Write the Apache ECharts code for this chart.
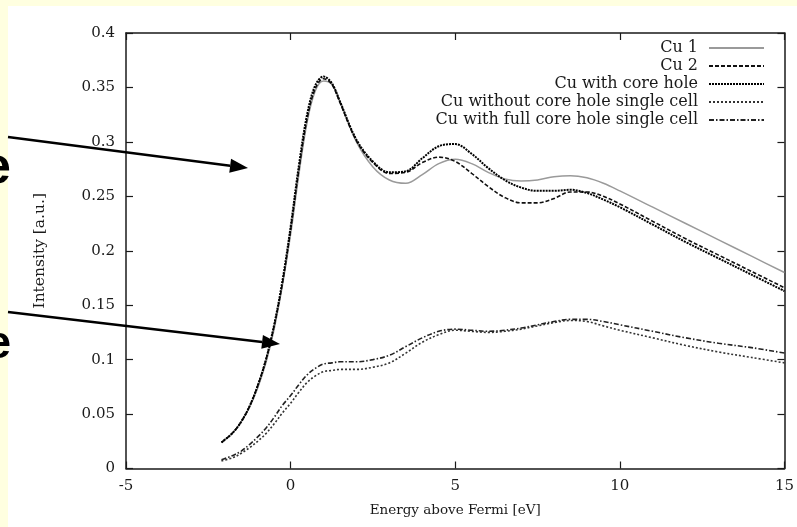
<!DOCTYPE html>
<html>
<head>
<meta charset="utf-8">
<script src="https://cdn.jsdelivr.net/npm/echarts@6/dist/echarts.min.js"></script>
<style>
html,body{margin:0;padding:0;background:#ffffff;}
#chart{width:797px;height:527px;}
</style>
</head>
<body>
<div id="chart"></div>
<script>
// ---- data ----
var energy = [-2.1,-1.75,-1.5,-1.25,-1,-0.75,-0.5,-0.25,0,0.25,0.5,0.75,1,1.25,1.5,2,2.5,3,3.5,4,4.5,5,5.5,6,6.5,7,7.5,8,8.5,9,9.5,10,11,12,13,14,15];
var cu1 = [0.024,0.033,0.043,0.056,0.074,0.097,0.128,0.168,0.215,0.27,0.318,0.347,0.356,0.353,0.337,0.3,0.277,0.265,0.262,0.27,0.28,0.284,0.28,0.272,0.266,0.264,0.265,0.268,0.269,0.267,0.262,0.255,0.24,0.225,0.21,0.195,0.18];
var cu2 = [0.024,0.033,0.043,0.057,0.076,0.1,0.131,0.17,0.219,0.274,0.321,0.349,0.358,0.353,0.336,0.301,0.281,0.271,0.272,0.281,0.286,0.282,0.271,0.259,0.249,0.244,0.244,0.248,0.254,0.254,0.25,0.243,0.227,0.211,0.196,0.181,0.166];
var cuCoreHole = [0.024,0.033,0.043,0.057,0.076,0.1,0.132,0.172,0.222,0.278,0.325,0.352,0.36,0.354,0.337,0.302,0.282,0.272,0.273,0.285,0.296,0.298,0.289,0.276,0.265,0.258,0.255,0.255,0.256,0.253,0.247,0.24,0.224,0.208,0.193,0.178,0.163];
var cuNoHoleSingle = [0.007,0.01,0.014,0.019,0.025,0.032,0.041,0.051,0.06,0.07,0.079,0.085,0.089,0.09,0.091,0.091,0.093,0.097,0.106,0.116,0.123,0.127,0.126,0.125,0.126,0.128,0.131,0.134,0.136,0.135,0.131,0.127,0.12,0.113,0.107,0.102,0.097];
var cuFullHoleSingle = [0.008,0.012,0.016,0.022,0.029,0.037,0.047,0.058,0.067,0.077,0.086,0.092,0.096,0.097,0.098,0.098,0.1,0.104,0.112,0.12,0.126,0.128,0.127,0.126,0.127,0.129,0.132,0.135,0.137,0.137,0.135,0.132,0.126,0.12,0.115,0.111,0.106];
var seriesNames = ['Cu 1','Cu 2','Cu with core hole','Cu without core hole single cell','Cu with full core hole single cell'];
var xTicks = {min:-5, max:15, interval:5};
var yTicks = {min:0, max:0.4, interval:0.05};
var xTitle = 'Energy above Fermi [eV]';
var yTitle = 'Intensity [a.u.]';

function pairs(ys){ return energy.map(function(x,i){ return [x, ys[i]]; }); }

var FONT = 'DejaVu Serif';
var AX = '#1a1a1a';

var chart = echarts.init(document.getElementById('chart'), null, {renderer:'canvas'});

function mkLine(name, data, color, width, type, z){
  return {
    name: name, type: 'line', data: pairs(data), symbol: 'none', showSymbol: false,
    smooth: 0.35, z: z || 2,
    lineStyle: {color: color, width: width, type: type},
    itemStyle: {color: color}
  };
}

// arrow helper (annotation graphics)
function arrow(x1,y1,x2,y2){
  var ang = Math.atan2(y2-y1, x2-x1);
  var L = 18, W = 7;
  var bx = x2 - L*Math.cos(ang), by = y2 - L*Math.sin(ang);
  var px = -Math.sin(ang), py = Math.cos(ang);
  return [
    {type:'line', shape:{x1:x1,y1:y1,x2:bx,y2:by}, style:{stroke:'#000', lineWidth:2.5}, z:100},
    {type:'polygon', shape:{points:[[x2,y2],[bx+px*W,by+py*W],[bx-px*W,by-py*W]]}, style:{fill:'#000'}, z:100}
  ];
}

var graphics = [
  {type:'rect', shape:{x:0,y:0,width:797,height:6}, style:{fill:'#FFFFE0'}, z:-10, silent:true},
  {type:'rect', shape:{x:0,y:0,width:8,height:527}, style:{fill:'#FFFFE0'}, z:-10, silent:true},
  {type:'text', x:11, y:195, style:{text:'e', font:'bold 52px "Liberation Sans"', fill:'#000', textAlign:'right', textVerticalAlign:'bottom'}, z:50},
  {type:'text', x:11, y:368, style:{text:'e', font:'bold 46px "Liberation Sans"', fill:'#000', textAlign:'right', textVerticalAlign:'bottom'}, z:50}
].concat(arrow(8,137,248,168)).concat(arrow(8,312,280,344));

var option = {
  backgroundColor: 'transparent',
  animation: false,
  grid: {left:126, right:9, top:33, bottom:58.5, show:false},
  legend: {
    orient:'vertical', align:'right', right:32, top:40, padding:0,
    itemWidth:55, itemHeight:12, itemGap:2,
    itemStyle:{opacity:0},
    textStyle:{fontFamily:FONT, fontSize:16, lineHeight:16, color:AX, padding:[0,6,0,0]},
    data: seriesNames
  },
  xAxis: [
    {type:'value', position:'bottom', min:xTicks.min, max:xTicks.max, interval:xTicks.interval,
     name:xTitle, nameLocation:'middle', nameGap:35,
     nameTextStyle:{fontFamily:FONT, fontSize:13.5, color:AX},
     axisLine:{show:true, onZero:false, lineStyle:{color:AX, width:1.5}},
     axisTick:{show:true, inside:true, length:7, lineStyle:{color:AX, width:1.2}},
     axisLabel:{fontFamily:FONT, fontSize:15, color:AX, margin:10},
     splitLine:{show:false}},
    {type:'value', position:'top', min:xTicks.min, max:xTicks.max, interval:xTicks.interval,
     axisLine:{show:true, onZero:false, lineStyle:{color:AX, width:1.5}},
     axisTick:{show:true, inside:true, length:7, lineStyle:{color:AX, width:1.2}},
     axisLabel:{show:false}, splitLine:{show:false}}
  ],
  yAxis: [
    {type:'value', position:'left', min:yTicks.min, max:yTicks.max, interval:yTicks.interval,
     name:yTitle, nameLocation:'middle', nameGap:78,
     nameTextStyle:{fontFamily:FONT, fontSize:15.5, color:AX},
     axisLine:{show:true, onZero:false, lineStyle:{color:AX, width:1.5}},
     axisTick:{show:true, inside:true, length:7, lineStyle:{color:AX, width:1.2}},
     axisLabel:{fontFamily:FONT, fontSize:15, color:AX, margin:11},
     splitLine:{show:false}},
    {type:'value', position:'right', min:yTicks.min, max:yTicks.max, interval:yTicks.interval,
     axisLine:{show:true, onZero:false, lineStyle:{color:AX, width:1.5}},
     axisTick:{show:true, inside:true, length:7, lineStyle:{color:AX, width:1.2}},
     axisLabel:{show:false}, splitLine:{show:false}}
  ],
  series: [
    mkLine(seriesNames[0], cu1, '#9a9a9a', 1.5, 'solid', 2),
    mkLine(seriesNames[1], cu2, '#111111', 1.6, [4,2], 3),
    mkLine(seriesNames[2], cuCoreHole, '#000000', 2, [2,1], 4),
    mkLine(seriesNames[3], cuNoHoleSingle, '#333333', 1.6, [2,2], 3),
    mkLine(seriesNames[4], cuFullHoleSingle, '#222222', 1.6, [5,2,1.5,2], 3)
  ],
  graphic: graphics
};
chart.setOption(option);
</script>
</body>
</html>
